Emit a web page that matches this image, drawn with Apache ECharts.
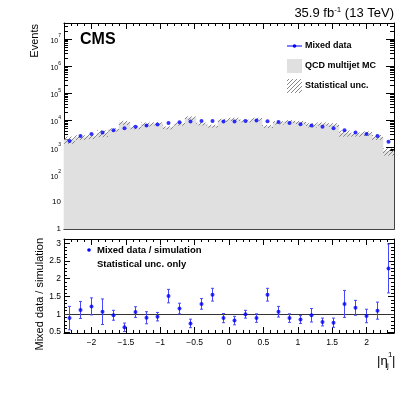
<!DOCTYPE html>
<html lang="en">
<head>
  <meta charset="UTF-8" />
  <title>Mixed data vs QCD multijet MC</title>
  <script src="https://cdn.jsdelivr.net/npm/echarts@6/dist/echarts.min.js"></script>
  <style>
    body { margin: 0; background: #fff; }
    #chart { width: 407px; height: 395px; }
  </style>
</head>
<body>
  <div id="chart"></div>
  <script>
    // bin centres of |eta_j^1|, bin width 0.16
    const etaCentres = [-2.32, -2.16, -2.00, -1.84, -1.68, -1.52, -1.36, -1.20, -1.04, -0.88,
                        -0.72, -0.56, -0.40, -0.24, -0.08, 0.08, 0.24, 0.40, 0.56, 0.72,
                        0.88, 1.04, 1.20, 1.36, 1.52, 1.68, 1.84, 2.00, 2.16, 2.32];
    const binWidth = 0.16;
    // mixed data (events per bin)
    const dataEvents = [1740, 2650, 3140, 3610, 4380, 5190, 5800, 6490, 7050, 8100,
                        8570, 9070, 9600, 9600, 9070, 9070, 9600, 9880, 9330, 8820,
                        8100, 7240, 6490, 5800, 5190, 4380, 3610, 3140, 2650, 1650];
    // QCD multijet MC (events per bin)
    const mcEvents = [1960, 2370, 2570, 3370, 4520, 8240, 5470, 7210, 7580, 5360,
                      7390, 12260, 7440, 6190, 10190, 11060, 9600, 11100, 6020, 8240,
                      9100, 8520, 6690, 7440, 6830, 3400, 3060, 3310, 2410, 720];
    // relative statistical uncertainty of the MC
    const mcRelUnc = [0.30, 0.20, 0.20, 0.28, 0.14, 0.17, 0.14, 0.17, 0.13, 0.13,
                      0.13, 0.15, 0.12, 0.12, 0.14, 0.14, 0.11, 0.13, 0.12, 0.14,
                      0.13, 0.13, 0.18, 0.14, 0.16, 0.26, 0.17, 0.19, 0.21, 0.30];
    // ratio mixed data / simulation and its uncertainty
    const ratio = [0.89, 1.12, 1.22, 1.07, 0.97, 0.63, 1.06, 0.90, 0.93, 1.51,
                   1.16, 0.74, 1.29, 1.55, 0.89, 0.82, 1.00, 0.89, 1.55, 1.07,
                   0.89, 0.85, 0.97, 0.78, 0.76, 1.29, 1.18, 0.95, 1.10, 2.29];
    const ratioErr = [0.33, 0.24, 0.24, 0.36, 0.14, 0.12, 0.15, 0.17, 0.12, 0.19,
                      0.15, 0.12, 0.15, 0.18, 0.13, 0.12, 0.11, 0.12, 0.18, 0.15,
                      0.12, 0.11, 0.19, 0.11, 0.13, 0.38, 0.21, 0.19, 0.24, 0.69];

    const FONT = '"Liberation Sans", Arial, sans-serif';
    const BLUE = '#0000ff';
    const MC_GREY = '#e0e0e0';

    // hatch pattern for the statistical band
    const hatch = document.createElement('canvas');
    hatch.width = 4; hatch.height = 4;
    const hctx = hatch.getContext('2d');
    hctx.strokeStyle = '#7a7a7a';
    hctx.lineWidth = 0.9;
    hctx.beginPath();
    hctx.moveTo(-1, 5); hctx.lineTo(5, -1);
    hctx.stroke();
    const hatchFill = { image: hatch, repeat: 'repeat' };

    const isPow10 = v => Math.abs(Math.log10(v) - Math.round(Math.log10(v))) < 1e-6;

    function xAxisDef(gridIndex, position, labels) {
      return {
        type: 'value', gridIndex: gridIndex, position: position,
        min: -2.4, max: 2.4, splitNumber: 10,
        axisLine: { show: true, onZero: false, lineStyle: { color: '#000', width: 1 } },
        axisTick: { show: true, inside: true, length: 6, lineStyle: { color: '#000' } },
        minorTick: { show: true, splitNumber: 5, length: 3, lineStyle: { color: '#000' } },
        splitLine: { show: false },
        axisLabel: labels ? {
          show: true, color: '#000', fontFamily: FONT, fontSize: 8.5, margin: 5,
          showMinLabel: false, showMaxLabel: false,
          formatter: v => String(v).replace('-', '\u2212')
        } : { show: false }
      };
    }

    function logAxisDef(position, labels) {
      return {
        type: 'log', logBase: 10, gridIndex: 0, position: position,
        min: 1, max: 3.9e7,
        axisLine: { show: true, onZero: false, lineStyle: { color: '#000', width: 1 } },
        axisTick: { show: true, inside: true, length: 8, lineStyle: { color: '#000' } },
        minorTick: { show: true, splitNumber: 9, length: 4, lineStyle: { color: '#000' } },
        splitLine: { show: false },
        axisLabel: labels ? {
          show: true, color: '#000', fontFamily: FONT, fontSize: 8, margin: 3,
          showMaxLabel: false,
          formatter: function (v) {
            if (!isPow10(v)) return '';
            const k = Math.round(Math.log10(v));
            if (k === 0) return '1';
            if (k === 1) return '10';
            return '{b|10}{e|' + k + '}';
          },
          rich: {
            b: { fontFamily: FONT, fontSize: 7, color: '#000', verticalAlign: 'bottom', lineHeight: 11 },
            e: { fontFamily: FONT, fontSize: 5, color: '#000', verticalAlign: 'top', lineHeight: 11 }
          }
        } : { show: false }
      };
    }

    function ratioAxisDef(position, labels) {
      return {
        type: 'value', gridIndex: 1, position: position,
        min: 0.47, max: 3.12, splitNumber: 5,
        axisLine: { show: true, onZero: false, lineStyle: { color: '#000', width: 1 } },
        axisTick: { show: true, inside: true, length: 6, lineStyle: { color: '#000' } },
        minorTick: { show: true, splitNumber: 5, length: 3, lineStyle: { color: '#000' } },
        splitLine: { show: false },
        axisLabel: labels ? {
          show: true, color: '#000', fontFamily: FONT, fontSize: 8.5, margin: 3,
          showMinLabel: false, showMaxLabel: false
        } : { show: false }
      };
    }

    function renderMC(params, api) {
      const c = api.value(0), v = api.value(1);
      const p0 = api.coord([c - binWidth / 2, v]);
      const p1 = api.coord([c + binWidth / 2, 1]);
      return {
        type: 'rect',
        shape: { x: p0[0], y: p0[1], width: p1[0] - p0[0], height: p1[1] - p0[1] },
        style: { fill: MC_GREY, stroke: MC_GREY, lineWidth: 0.6 }
      };
    }

    function renderBand(params, api) {
      const c = api.value(0), lo = api.value(1), hi = api.value(2);
      const p0 = api.coord([c - binWidth / 2, hi]);
      const p1 = api.coord([c + binWidth / 2, lo]);
      return {
        type: 'rect',
        shape: { x: p0[0], y: p0[1], width: p1[0] - p0[0], height: p1[1] - p0[1] },
        style: { fill: hatchFill }
      };
    }

    function renderErr(params, api) {
      const c = api.value(0), lo = api.value(1), hi = api.value(2);
      const a = api.coord([c, hi]);
      const b = api.coord([c, lo]);
      const st = { stroke: '#4747ff', lineWidth: 1 };
      return {
        type: 'group',
        children: [
          { type: 'line', shape: { x1: a[0], y1: a[1], x2: b[0], y2: b[1] }, style: st },
          { type: 'line', shape: { x1: a[0] - 1.5, y1: a[1], x2: a[0] + 1.5, y2: a[1] }, style: st },
          { type: 'line', shape: { x1: b[0] - 1.5, y1: b[1], x2: b[0] + 1.5, y2: b[1] }, style: st }
        ]
      };
    }

    const txt = (x, y, text, extra) => ({
      type: 'text', x: x, y: y,
      style: Object.assign({ text: text, fill: '#000', fontFamily: FONT, fontSize: 9,
                             fontWeight: 'bold', align: 'left', verticalAlign: 'middle' }, extra || {})
    });

    const chart = echarts.init(document.getElementById('chart'));
    chart.setOption({
      animation: false,
      backgroundColor: '#fff',
      grid: [
        { left: 64, top: 23, width: 330, height: 206, outerBoundsMode: 'none' },
        { left: 64, top: 239, width: 330, height: 94, outerBoundsMode: 'none' }
      ],
      xAxis: [xAxisDef(0, 'bottom', false), xAxisDef(1, 'bottom', true),
              xAxisDef(0, 'top', false), xAxisDef(1, 'top', false)],
      yAxis: [logAxisDef('left', true), ratioAxisDef('left', true),
              logAxisDef('right', false), ratioAxisDef('right', false)],
      series: [
        {
          name: 'QCD multijet MC', type: 'custom', xAxisIndex: 0, yAxisIndex: 0, z: 1,
          renderItem: renderMC, silent: true,
          data: etaCentres.map((c, i) => [c, mcEvents[i]])
        },
        {
          name: 'Statistical unc.', type: 'custom', xAxisIndex: 0, yAxisIndex: 0, z: 2,
          renderItem: renderBand, silent: true,
          data: etaCentres.map((c, i) => [c, mcEvents[i] * (1 - mcRelUnc[i]), mcEvents[i] * (1 + mcRelUnc[i])])
        },
        {
          name: 'Mixed data', type: 'scatter', xAxisIndex: 0, yAxisIndex: 0, z: 3,
          symbol: 'circle', symbolSize: 4, itemStyle: { color: BLUE },
          data: etaCentres.map((c, i) => [c, dataEvents[i]])
        },
        {
          name: 'ratio err', type: 'custom', xAxisIndex: 1, yAxisIndex: 1, z: 3,
          renderItem: renderErr, silent: true,
          data: etaCentres.map((c, i) => [c, ratio[i] - ratioErr[i], ratio[i] + ratioErr[i]])
        },
        {
          name: 'Mixed data / simulation', type: 'scatter', xAxisIndex: 1, yAxisIndex: 1, z: 4,
          symbol: 'circle', symbolSize: 4, itemStyle: { color: BLUE },
          data: etaCentres.map((c, i) => [c, ratio[i]]),
          markLine: {
            silent: true, symbol: 'none', label: { show: false }, z: 2,
            lineStyle: { color: '#333', width: 1, type: 'solid' },
            data: [{ yAxis: 1 }]
          }
        }
      ],
      graphic: [
        // header
        { type: 'text', x: 394, y: 21,
          style: { text: '35.9 fb{sup|-1} (13 TeV)', fill: '#000', fontFamily: FONT, fontSize: 13,
                   align: 'right', verticalAlign: 'bottom',
                   rich: { sup: { fontFamily: FONT, fontSize: 8, verticalAlign: 'top', lineHeight: 15 } } } },
        txt(80, 40, 'CMS', { fontSize: 16 }),
        // axis titles
        { type: 'text', x: 35, y: 24, rotation: Math.PI / 2,
          style: { text: 'Events', fill: '#000', fontFamily: FONT, fontSize: 11, align: 'right', verticalAlign: 'middle' } },
        { type: 'text', x: 40, y: 238, rotation: Math.PI / 2,
          style: { text: 'Mixed data / simulation', fill: '#000', fontFamily: FONT, fontSize: 11, align: 'right', verticalAlign: 'middle' } },
        { type: 'text', x: 377, y: 361, style: { text: '|\u03b7', fill: '#000', fontFamily: FONT, fontSize: 13, align: 'left', verticalAlign: 'middle' } },
        { type: 'text', x: 388, y: 355, style: { text: '1', fill: '#000', fontFamily: FONT, fontSize: 8, align: 'left', verticalAlign: 'middle' } },
        { type: 'text', x: 387, y: 366, style: { text: 'j', fill: '#000', fontFamily: FONT, fontSize: 8, align: 'left', verticalAlign: 'middle' } },
        { type: 'text', x: 392, y: 361, style: { text: '|', fill: '#000', fontFamily: FONT, fontSize: 13, align: 'left', verticalAlign: 'middle' } },
        // top legend
        { type: 'line', shape: { x1: 287, y1: 46, x2: 302, y2: 46 }, style: { stroke: BLUE, lineWidth: 1 } },
        { type: 'circle', shape: { cx: 294.5, cy: 46, r: 1.8 }, style: { fill: BLUE } },
        txt(305, 46, 'Mixed data'),
        { type: 'rect', shape: { x: 287, y: 59, width: 15, height: 14 }, style: { fill: MC_GREY } },
        txt(305, 66, 'QCD multijet MC'),
        { type: 'rect', shape: { x: 287, y: 79, width: 15, height: 14 }, style: { fill: hatchFill } },
        txt(305, 86, 'Statistical unc.'),
        // ratio legend
        { type: 'circle', shape: { cx: 89, cy: 250, r: 1.8 }, style: { fill: BLUE } },
        txt(97, 250, 'Mixed data / simulation', { fontSize: 9.5 }),
        txt(97, 264, 'Statistical unc. only', { fontSize: 9.5 })
      ]
    });
  </script>
</body>
</html>
